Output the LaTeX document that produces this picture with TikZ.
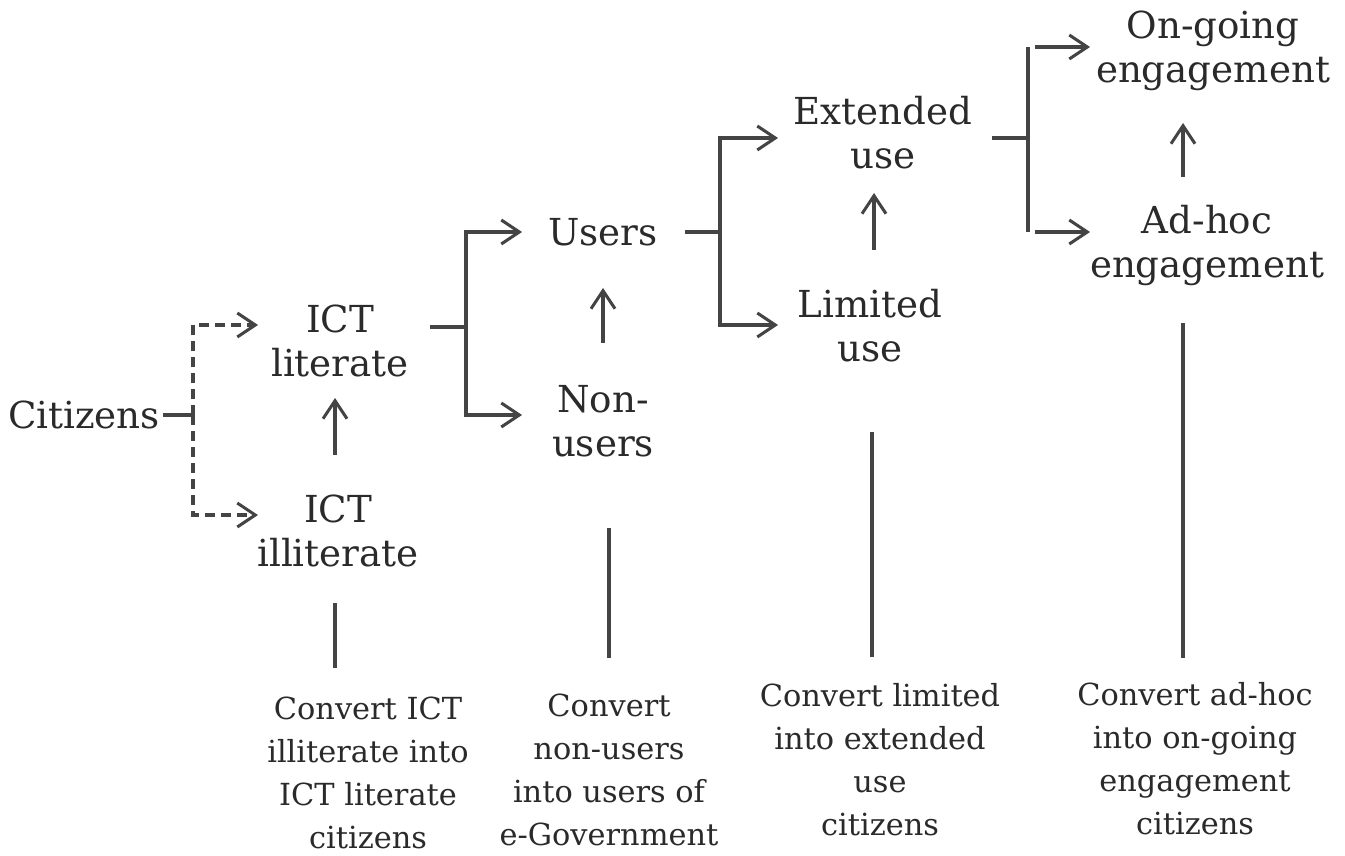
\documentclass[tikz,border=0pt]{standalone}
\usepackage{fontspec}
\setmainfont{DejaVu Serif}
\usetikzlibrary{arrows.meta}
\definecolor{txt}{HTML}{2A2A2A}
\definecolor{lc}{HTML}{444444}
\begin{document}
\begin{tikzpicture}[x=0.5pt,y=-0.5pt,
  lbl/.style={align=center,text=txt,font=\fontsize{18.6}{22}\selectfont,inner sep=2pt},
  note/.style={align=center,text=txt,font=\fontsize{15.2}{21.5}\selectfont,inner sep=2pt},
  ln/.style={draw=lc,line width=1.6pt},
  arr/.style={ln,-{Straight Barb[length=9pt,width=12pt,line width=1.5pt]}},
  darr/.style={arr,dash pattern=on 5pt off 3pt}]
\useasboundingbox (0,0) rectangle (1345,856);
\fill[white] (0,0) rectangle (1345,856);
% labels
\node[lbl] (cit) at (84,415) {Citizens};
\node[lbl] (lit) at (340,341) {ICT\\literate};
\node[lbl] (ill) at (338,531) {ICT\\illiterate};
\node[lbl] (usr) at (603,232) {Users};
\node[lbl] (non) at (603,421) {Non-\\users};
\node[lbl] (ext) at (883,133) {Extended\\use};
\node[lbl] (lim) at (870,326) {Limited\\use};
\node[lbl] (ong) at (1213,51) {On-going\\engagement};
\node[lbl] (adh) at (1207,246) {Ad-hoc\\engagement};
% notes
\node[note] (n1) at (368,773) {Convert ICT\\illiterate into\\ICT literate\\citizens};
\node[note] (n2) at (609,770) {Convert\\non-users\\into users of\\e-Government};
\node[note] (n3) at (880,760) {Convert limited\\into extended\\use\\citizens};
\node[note] (n4) at (1195,759) {Convert ad-hoc\\into on-going\\engagement\\citizens};
% fork 1 (dashed)
\coordinate (s1) at (163,415);
\coordinate (f1) at (193,415);
\coordinate (t1a) at (258,325);
\coordinate (t1b) at (258,515);
\draw[ln] (s1) -- (f1);
\draw[darr] (f1) |- (t1a);
\draw[darr] (f1) |- (t1b);
% fork 2
\coordinate (s2) at (430,327);
\coordinate (f2) at (466,327);
\coordinate (t2a) at (522,232);
\coordinate (t2b) at (522,415);
\draw[ln] (s2) -- (f2);
\draw[arr] (f2) |- (t2a);
\draw[arr] (f2) |- (t2b);
% fork 3
\coordinate (s3) at (685,232);
\coordinate (f3) at (720,232);
\coordinate (t3a) at (778,138);
\coordinate (t3b) at (778,325);
\draw[ln] (s3) -- (f3);
\draw[arr] (f3) |- (t3a);
\draw[arr] (f3) |- (t3b);
% fork 4
\coordinate (s4) at (992,138);
\coordinate (f4) at (1028,138);
\coordinate (t4a) at (1090,47);
\coordinate (t4b) at (1090,232);
\draw[ln] (s4) -- (f4);
\draw[ln] (1028,47) -- (1028,232);
\draw[arr] (1035,47) -- (t4a);
\draw[arr] (1035,232) -- (t4b);
% vertical up arrows
\coordinate (u1a) at (335,455); \coordinate (u1b) at (335,398);
\coordinate (u2a) at (603,343); \coordinate (u2b) at (603,288);
\coordinate (u3a) at (874,250); \coordinate (u3b) at (874,193);
\coordinate (u4a) at (1183,177); \coordinate (u4b) at (1183,123);
\draw[arr] (u1a) -- (u1b);
\draw[arr] (u2a) -- (u2b);
\draw[arr] (u3a) -- (u3b);
\draw[arr] (u4a) -- (u4b);
% vertical lines to notes
\draw[ln] (335,603) -- (335,668);
\draw[ln] (609,528) -- (609,658);
\draw[ln] (872,432) -- (872,657);
\draw[ln] (1183,323) -- (1183,658);
\end{tikzpicture}
\end{document}
